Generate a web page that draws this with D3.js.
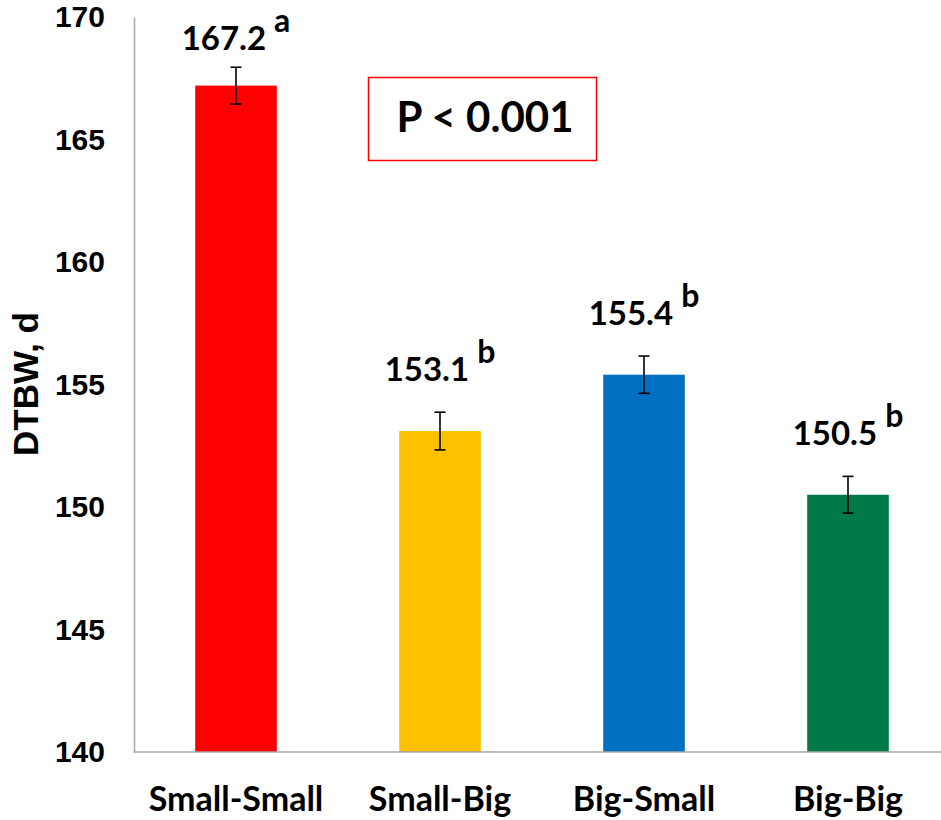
<!DOCTYPE html>
<html>
<head>
<meta charset="utf-8">
<script src="https://cdn.jsdelivr.net/npm/d3@7"></script>
<style>
  html, body { margin: 0; padding: 0; background: #fff; }
  svg { display: block; }
</style>
</head>
<body>
<svg id="chart" width="941" height="820"></svg>
<script>
// Days to body weight by group combination
const categories = ["Small-Small", "Small-Big", "Big-Small", "Big-Big"];
const means = [167.2, 153.1, 155.4, 150.5];
const errors = [0.75, 0.77, 0.76, 0.75];
const letters = ["a", "b", "b", "b"];
const colors = ["#FF0000", "#FFC000", "#0070C0", "#017A47"];
const yTicks = [140, 145, 150, 155, 160, 165, 170];
const yTitle = "DTBW, d";
const pText = "P < 0.001";

const svg = d3.select("#chart");
const plotLeft = 134, plotRight = 950, plotTop = 17, plotBottom = 752;

const x = d3.scaleBand().domain(categories).range([plotLeft, plotRight])
  .paddingInner(0.6).paddingOuter(0.3);
const y = d3.scaleLinear().domain([140, 170]).range([plotBottom, plotTop]);

const calibriLike = "Lato, 'Open Sans', sans-serif";
const arialLike = "'Liberation Sans', Arial, sans-serif";

// Bars
svg.append("g").selectAll("rect").data(categories).join("rect")
  .attr("x", d => x(d))
  .attr("y", (d, i) => y(means[i]))
  .attr("width", x.bandwidth())
  .attr("height", (d, i) => y(140) - y(means[i]))
  .attr("fill", (d, i) => colors[i]);

// Error bars
const eb = svg.append("g").attr("stroke", "#000").attr("stroke-width", 1.6);
categories.forEach((c, i) => {
  const cx = x(c) + x.bandwidth() / 2;
  const y1 = y(means[i] + errors[i]), y0 = y(means[i] - errors[i]);
  eb.append("line").attr("x1", cx).attr("x2", cx).attr("y1", y1).attr("y2", y0);
  eb.append("line").attr("x1", cx - 5.5).attr("x2", cx + 5.5).attr("y1", y1).attr("y2", y1);
  eb.append("line").attr("x1", cx - 5.5).attr("x2", cx + 5.5).attr("y1", y0).attr("y2", y0);
});

// Axes (plain grey lines, no ticks)
const axisG = svg.append("g");
const yAxis = axisG.append("g").attr("transform", `translate(${plotLeft},0)`)
  .call(d3.axisLeft(y).tickValues(yTicks).tickSize(0).tickPadding(29).tickFormat(d3.format("d")));
yAxis.select(".domain").attr("stroke", "#A6A6A6").attr("stroke-width", 1.5);
yAxis.selectAll("text")
  .attr("font-family", arialLike).attr("font-weight", "bold")
  .attr("font-size", 30).attr("fill", "#000");

const xAxis = axisG.append("g").attr("transform", `translate(0,${plotBottom})`)
  .call(d3.axisBottom(x).tickSize(0).tickPadding(0));
xAxis.select(".domain").attr("stroke", "#A6A6A6").attr("stroke-width", 1.5)
  .attr("d", `M${plotLeft},0H${plotRight}`);
xAxis.selectAll("text")
  .attr("dy", null).attr("y", 59)
  .attr("font-family", calibriLike).attr("font-weight", "bold")
  .attr("font-size", 34).attr("fill", "#000");

// Y axis title
svg.append("text")
  .attr("transform", `translate(38,384) rotate(-90)`)
  .attr("text-anchor", "middle")
  .attr("font-family", arialLike).attr("font-weight", "bold")
  .attr("font-size", 35).attr("fill", "#000")
  .text(yTitle);

// Value labels with significance letters
const lab = svg.append("g")
  .attr("font-family", calibriLike).attr("font-weight", "bold").attr("fill", "#000");
categories.forEach((c, i) => {
  const cx = x(c) + x.bandwidth() / 2;
  const by = Math.max(y(means[i]) - 50, 50);
  const t = lab.append("text").attr("x", cx).attr("y", by)
    .attr("text-anchor", "middle").attr("font-size", 33);
  t.append("tspan").text(means[i].toFixed(1) + " ");
  t.append("tspan").attr("dy", -18).attr("font-size", 32).text(letters[i]);
});

// Significance box
svg.append("rect")
  .attr("x", 368.5).attr("y", 77.5).attr("width", 228).attr("height", 83)
  .attr("fill", "#fff").attr("stroke", "#FF0000").attr("stroke-width", 1.5);
svg.append("text")
  .attr("x", 485).attr("y", 132)
  .attr("text-anchor", "middle")
  .attr("font-family", calibriLike).attr("font-weight", "bold")
  .attr("font-size", 42).attr("fill", "#000")
  .text(pText);
</script>
</body>
</html>
